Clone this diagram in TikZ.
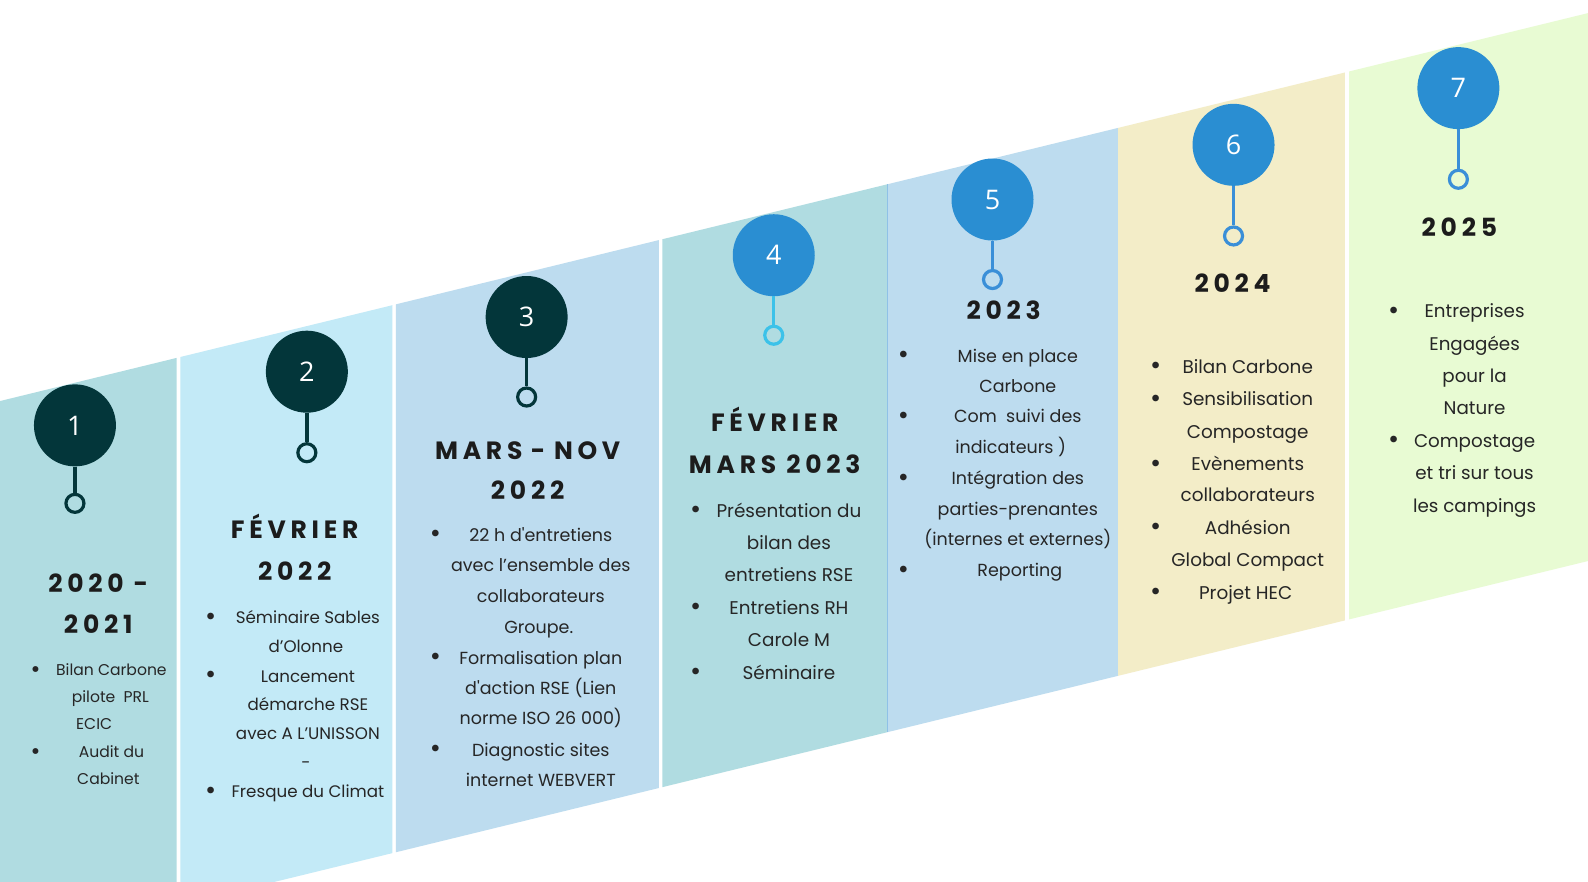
\documentclass[tikz,border=0pt]{standalone}
\usepackage{fontspec}
\setmainfont{Poppins}[Ligatures=TeXOff]
\newfontfamily\titlef{Poppins}[Ligatures=TeXOff,LetterSpace=19]
\newfontfamily\numf{Open Sans}
\definecolor{cTeal}{HTML}{B0DCE1}
\definecolor{cSky}{HTML}{C3EAF7}
\definecolor{cBlue}{HTML}{BDDCEF}
\definecolor{cSand}{HTML}{F3EDC8}
\definecolor{cLime}{HTML}{E8FBD3}
\definecolor{cDark}{HTML}{03363A}
\definecolor{cMid}{HTML}{2A8ED2}
\definecolor{cCyan}{HTML}{3CC2E9}
\definecolor{cStem}{HTML}{3A8FD8}
\definecolor{cTxt}{HTML}{262626}
\definecolor{cTtl}{HTML}{1C1C1C}
\newcommand\band[3]{\fill[#3] (#1,{396-0.2443*(#1)}) -- (#2,{396-0.2443*(#2)}) -- (#2,{937-0.2443*(#2)}) -- (#1,{937-0.2443*(#1)}) -- cycle;}
\newcommand\tl[4]{\node[tline] (#1) at (#2,#3) {#4};}
\newcommand\bu[3]{\node[tline, bulletfont] (#1) at (#2,#3) {•};}
\tikzset{
  numdark/.style={circle, fill=cDark, text=white, minimum size=82pt, inner sep=0pt, font=\numf\fontsize{27}{27}\selectfont},
  numblue/.style={numdark, fill=cMid},
  ringnode/.style={circle, draw, line width=3.2pt, minimum size=18pt, inner sep=0pt},
  stemline/.style={line width=3.4pt},
  tline/.style={anchor=mid, inner sep=0pt, text=cTxt, yshift=-4pt},
  bulletfont/.style={font=\fontsize{27}{27}\selectfont, yshift=-1.5pt},
  title/.style={anchor=mid, inner sep=0pt, text=cTtl, yshift=-6pt, font=\titlef\bfseries\fontsize{25}{25}\selectfont},
}
\begin{document}
\begin{tikzpicture}[x=1.0128pt,y=-1.0128pt]
\useasboundingbox (0,0) rectangle (1568,870);
\clip (0,0) rectangle (1568,870);
\fill[white] (0,0) rectangle (1568,870);
% bands
\band{0}{174.5}{cTeal}
\band{178}{387.5}{cSky}
\band{391}{650.5}{cBlue}
\band{654}{876}{cTeal}
\band{876}{1104}{cBlue}
\band{1104}{1328}{cSand}
\band{1332}{1568}{cLime}
\draw[line width=1.2pt, color=cStem!35!cBlue] (876.5,{396-0.2443*876.5}) -- (876.5,{937-0.2443*876.5});
% milestones
\node[numdark] (n1) at (74,420) {1};
\node[ringnode, draw=cDark] (r1) at (74,497) {};
\draw[stemline, cDark] (n1) -- (r1);
\node[numdark] (n2) at (303,367) {2};
\node[ringnode, draw=cDark] (r2) at (303,447) {};
\draw[stemline, cDark] (n2) -- (r2);
\node[numdark] (n3) at (520,313) {3};
\node[ringnode, draw=cDark] (r3) at (520,392) {};
\draw[stemline, cDark] (n3) -- (r3);
\node[numblue] (n4) at (764,252) {4};
\node[ringnode, draw=cCyan] (r4) at (764,331) {};
\draw[stemline, cCyan] (n4) -- (r4);
\node[numblue] (n5) at (980,197) {5};
\node[ringnode, draw=cStem] (r5) at (980,276) {};
\draw[stemline, cStem] (n5) -- (r5);
\node[numblue] (n6) at (1218,143) {6};
\node[ringnode, draw=cStem] (r6) at (1218,233) {};
\draw[stemline, cStem] (n6) -- (r6);
\node[numblue] (n7) at (1440,87) {7};
\node[ringnode, draw=cStem] (r7) at (1440,177) {};
\draw[stemline, cStem] (n7) -- (r7);
% titles
\node[title] (t1a) at (97,576) {2020 -};
\node[title] (t1b) at (97,617) {2021};
\node[title] (t2a) at (291,523) {FÉVRIER};
\node[title] (t2b) at (291,565) {2022};
\node[title] (t3a) at (521,445) {MARS\hspace{-1.5pt} - \hspace{-1.5pt}NOV};
\node[title] (t3b) at (521,485) {2022};
\node[title] (t4a) at (765,417) {FÉVRIER};
\node[title] (t4b) at (765,459) {MARS 2023};
\node[title] (t5a) at (991,307) {2023};
\node[title] (t6a) at (1217,280) {2024};
\node[title] (t7a) at (1441,225) {2025};
% column 1
\begin{scope}[tline/.append style={font=\fontsize{15.6}{15.6}\selectfont}, bulletfont/.style={font=\fontsize{24}{24}\selectfont, yshift=-1.3pt}]
\bu{b11}{35}{661}\tl{l11}{110}{660}{Bilan Carbone}
\tl{l12}{109}{687}{pilote~ PRL}
\tl{l13}{93}{714}{ECIC}
\bu{b12}{35}{742}\tl{l14}{110}{741}{Audit du}
\tl{l15}{107}{768}{Cabinet}
\end{scope}
% column 2
\begin{scope}[tline/.append style={font=\fontsize{16.7}{16.7}\selectfont}]
\bu{b21}{208}{609}\tl{l21}{304}{609}{Séminaire Sables}
\tl{l22}{302}{638}{d’Olonne}
\bu{b22}{208}{667}\tl{l23}{304}{667}{Lancement}
\tl{l24}{304}{695}{démarche RSE}
\tl{l25}{304}{724}{avec A L’UNISSON}
\tl{l26}{302}{752}{-}
\bu{b23}{208}{781}\tl{l27}{304}{781}{Fresque du Climat}
\end{scope}
% column 3
\begin{scope}[tline/.append style={font=\fontsize{17.5}{17.5}\selectfont}]
\bu{b31}{430}{528}\tl{l31}{534}{528}{22 h d'entretiens}
\tl{l32}{534}{558}{avec l’ensemble des}
\tl{l33}{534}{588}{collaborateurs}
\tl{l34}{532}{619}{Groupe.}
\bu{b32}{430}{649}\tl{l35}{534}{649}{Formalisation plan}
\tl{l36}{534}{679}{d'action RSE (Lien}
\tl{l37}{534}{709}{norme ISO 26 000)}
\bu{b33}{430}{740}\tl{l38}{534}{740}{Diagnostic sites}
\tl{l39}{534}{770}{internet WEBVERT}
\end{scope}
% column 4
\begin{scope}[tline/.append style={font=\fontsize{18.4}{18.4}\selectfont}]
\bu{b41}{687}{504}\tl{l41}{779}{504}{Présentation du}
\tl{l42}{779}{536}{bilan des}
\tl{l43}{779}{568}{entretiens RSE}
\bu{b42}{687}{600}\tl{l44}{779}{600}{Entretiens RH}
\tl{l45}{779}{632}{Carole M}
\bu{b43}{687}{664}\tl{l46}{779}{664}{Séminaire}
\end{scope}
% column 5
\begin{scope}[tline/.append style={font=\fontsize{17.5}{17.5}\selectfont}]
\bu{b51}{892}{351}\tl{l51}{1005}{351}{Mise en place}
\tl{l52}{1005}{381}{Carbone}
\bu{b52}{892}{411}\tl{l53}{1005}{411}{Com~ suivi des}
\tl{l54}{998}{441}{indicateurs )}
\bu{b53}{892}{472}\tl{l55}{1005}{472}{Intégration des}
\tl{l56}{1005}{502}{parties-prenantes}
\tl{l57}{1005}{532}{(internes et externes)}
\bu{b54}{892}{563}\tl{l58}{1007}{563}{Reporting}
\end{scope}
% column 6
\begin{scope}[tline/.append style={font=\fontsize{18.4}{18.4}\selectfont}]
\bu{b61}{1141}{362}\tl{l61}{1232}{362}{Bilan Carbone}
\bu{b62}{1141}{394}\tl{l62}{1232}{394}{Sensibilisation}
\tl{l63}{1232}{426}{Compostage}
\bu{b63}{1141}{458}\tl{l64}{1232}{458}{Evènements}
\tl{l65}{1232}{489}{collaborateurs}
\bu{b64}{1141}{521}\tl{l66}{1232}{521}{Adhésion}
\tl{l67}{1232}{553}{Global Compact}
\bu{b65}{1141}{585}\tl{l68}{1230}{585}{Projet HEC}
\end{scope}
% column 7
\begin{scope}[tline/.append style={font=\fontsize{18.3}{18.3}\selectfont}]
\bu{b71}{1376}{307}\tl{l71}{1456}{307}{Entreprises}
\tl{l72}{1456}{339}{Engagées}
\tl{l73}{1456}{371}{pour la}
\tl{l74}{1456}{403}{Nature}
\bu{b72}{1376}{435}\tl{l75}{1456}{435}{Compostage}
\tl{l76}{1456}{467}{et tri sur tous}
\tl{l77}{1456}{499}{les campings}
\end{scope}
\end{tikzpicture}
\end{document}
